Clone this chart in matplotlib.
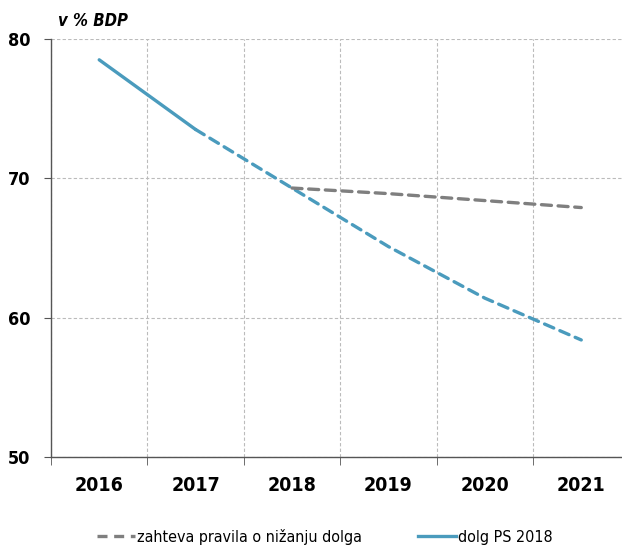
import numpy as np
import matplotlib.pyplot as plt

years = ['2016', '2017', '2018', '2019', '2020', '2021']
dolg_ps = [78.5, 73.5, 69.3, 65.1, 61.4, 58.4]
pravilo = [None, None, 69.3, 68.9, 68.4, 67.9]

blue = '#4a9bbd'
gray = '#7f7f7f'
plt.rcParams['font.family'] = ['DejaVu Sans']
plt.rcParams['font.stretch'] = 'condensed'

fig = plt.figure(figsize=(6.22, 5.48), dpi=100)
ax = fig.add_axes([0.082, 0.166, 0.93, 0.763])

x = np.arange(len(years))
ax.plot(x[:2], dolg_ps[:2], color=blue, lw=2.4, solid_capstyle='round')
ax.plot(x[1:], dolg_ps[1:], color=blue, lw=2.4, ls=(0, (3, 2)),
        dash_capstyle='round')
gx = [i for i, v in enumerate(pravilo) if v is not None]
gy = [v for v in pravilo if v is not None]
ax.plot(gx, gy, color=gray, lw=2.4, ls=(0, (3, 2)), dash_capstyle='round')

ax.set_xlim(-0.5, 5.5)
ax.set_ylim(50, 80)
ax.set_yticks([50, 60, 70, 80])
ax.set_xticks(x)
ax.set_xticklabels(years)
ax.set_xticks(np.arange(-0.5, 5.6, 1), minor=True)
ax.tick_params(axis='x', which='major', length=0, pad=14, labelsize=14)
ax.tick_params(axis='x', which='minor', length=6, color='#555555')
ax.tick_params(axis='y', length=5, pad=10, color='#555555', labelsize=13)
for lab in ax.get_xticklabels() + ax.get_yticklabels():
    lab.set_fontweight('bold')

ax.grid(False)
ax.grid(True, which='minor', axis='x', color='#bbbbbb', ls=(0, (3, 2)), lw=0.8)
ax.grid(True, which='major', axis='y', color='#bbbbbb', ls=(0, (3, 2)), lw=0.8)
for s in ['top', 'right']:
    ax.spines[s].set_visible(False)
for s in ['left', 'bottom']:
    ax.spines[s].set_color('#555555')
    ax.spines[s].set_linewidth(1.0)

fig.text(0.093, 0.962, 'v % BDP', fontsize=12, fontweight='bold',
         fontstyle='italic', va='center')

h1, = ax.plot([], [], color=gray, lw=2.4, ls=(0, (3, 2)))
h2, = ax.plot([], [], color=blue, lw=2.4)
fig.legend([h1, h2], ['zahteva pravila o nižanju dolga', 'dolg PS 2018'],
           loc='center', bbox_to_anchor=(0.522, 0.02), ncol=2, frameon=False,
           fontsize=11.5, handlelength=2.4, handletextpad=0.1,
           columnspacing=3.5)

fig.savefig('out.png', dpi=100)
